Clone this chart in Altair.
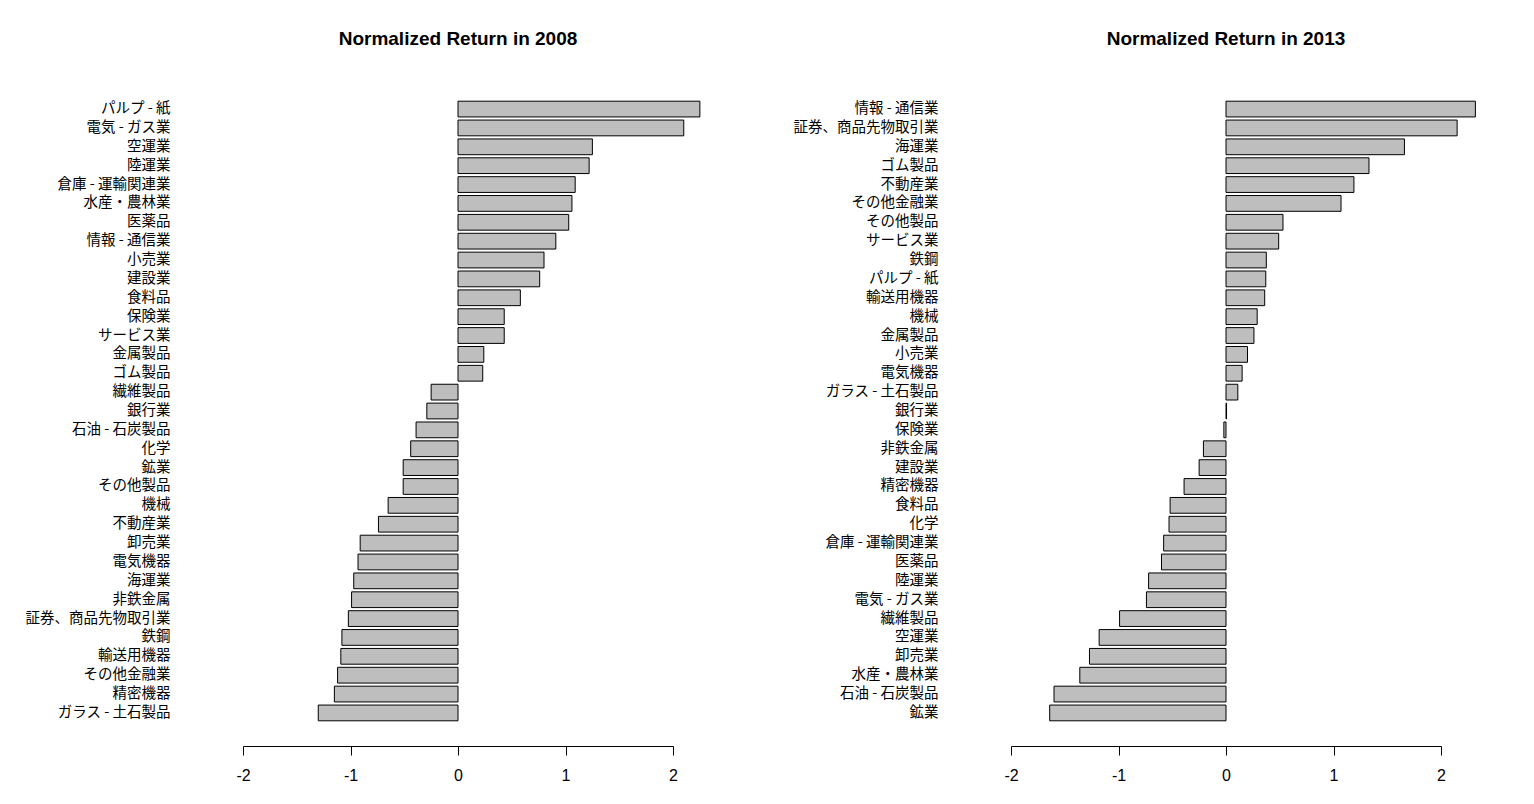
import altair as alt
import pandas as pd

cats2008 = ["パルプ - 紙", "電気 - ガス業", "空運業", "陸運業", "倉庫 - 運輸関連業", "水産・農林業",
            "医薬品", "情報 - 通信業", "小売業", "建設業", "食料品", "保険業", "サービス業",
            "金属製品", "ゴム製品", "繊維製品", "銀行業", "石油 - 石炭製品", "化学", "鉱業",
            "その他製品", "機械", "不動産業", "卸売業", "電気機器", "海運業", "非鉄金属",
            "証券、商品先物取引業", "鉄鋼", "輸送用機器", "その他金融業", "精密機器", "ガラス - 土石製品"]
vals2008 = [2.25, 2.10, 1.25, 1.22, 1.09, 1.06, 1.03, 0.91, 0.80, 0.76, 0.58, 0.43, 0.43,
            0.24, 0.23, -0.25, -0.29, -0.39, -0.44, -0.51, -0.51, -0.65, -0.74, -0.91, -0.93,
            -0.97, -0.99, -1.02, -1.08, -1.09, -1.12, -1.15, -1.30]

cats2013 = ["情報 - 通信業", "証券、商品先物取引業", "海運業", "ゴム製品", "不動産業", "その他金融業",
            "その他製品", "サービス業", "鉄鋼", "パルプ - 紙", "輸送用機器", "機械", "金属製品",
            "小売業", "電気機器", "ガラス - 土石製品", "銀行業", "保険業", "非鉄金属", "建設業",
            "精密機器", "食料品", "化学", "倉庫 - 運輸関連業", "医薬品", "陸運業", "電気 - ガス業",
            "繊維製品", "空運業", "卸売業", "水産・農林業", "石油 - 石炭製品", "鉱業"]
vals2013 = [2.32, 2.15, 1.66, 1.33, 1.19, 1.07, 0.53, 0.49, 0.375, 0.37, 0.36, 0.29, 0.26,
            0.20, 0.15, 0.11, 0.005, -0.02, -0.21, -0.25, -0.39, -0.52, -0.53, -0.58, -0.60,
            -0.72, -0.74, -0.99, -1.18, -1.27, -1.36, -1.60, -1.64]

ticks = [-2, -1, 0, 1, 2]


def panel(cats, vals, title):
    df = pd.DataFrame({"industry": cats, "value": vals})
    return alt.Chart(df).mark_bar(fill="#bebebe", stroke="black", strokeWidth=1).encode(
        y=alt.Y("industry:N", sort=cats,
                scale=alt.Scale(paddingInner=0.165, paddingOuter=0.54),
                axis=alt.Axis(title=None, domain=False, ticks=False, labelPadding=73,
                              labelFont="Noto Sans CJK JP", labelFontSize=14.5,
                              labelColor="black", minExtent=230, maxExtent=230,
                              labelLimit=400)),
        x=alt.X("value:Q", scale=alt.Scale(domain=[-2, 2], nice=False),
                axis=alt.Axis(title=None, values=ticks, grid=False, offset=15,
                              domainColor="black", tickColor="black", tickSize=9,
                              labelFont="Liberation Sans", labelFontSize=16,
                              labelColor="black", labelPadding=12, labelFlush=False,
                              labelExpr="'' + datum.value")),
    ).properties(
        width=430, height=640,
        title=alt.TitleParams(title, font="Liberation Sans", fontSize=19, fontWeight="bold",
                              color="black", offset=42, anchor="middle"),
    )


left = panel(cats2008, vals2008, "Normalized Return in 2008")
right = panel(cats2013, vals2013, "Normalized Return in 2013")

chart = alt.hconcat(left, right, spacing=338, bounds="flush").properties(
    padding={"left": 5, "top": 22, "right": 5, "bottom": 5},
    background="white",
).configure_view(stroke=None, strokeWidth=0)

chart.save("out.html", embed_options={"renderer": "svg", "actions": False})
